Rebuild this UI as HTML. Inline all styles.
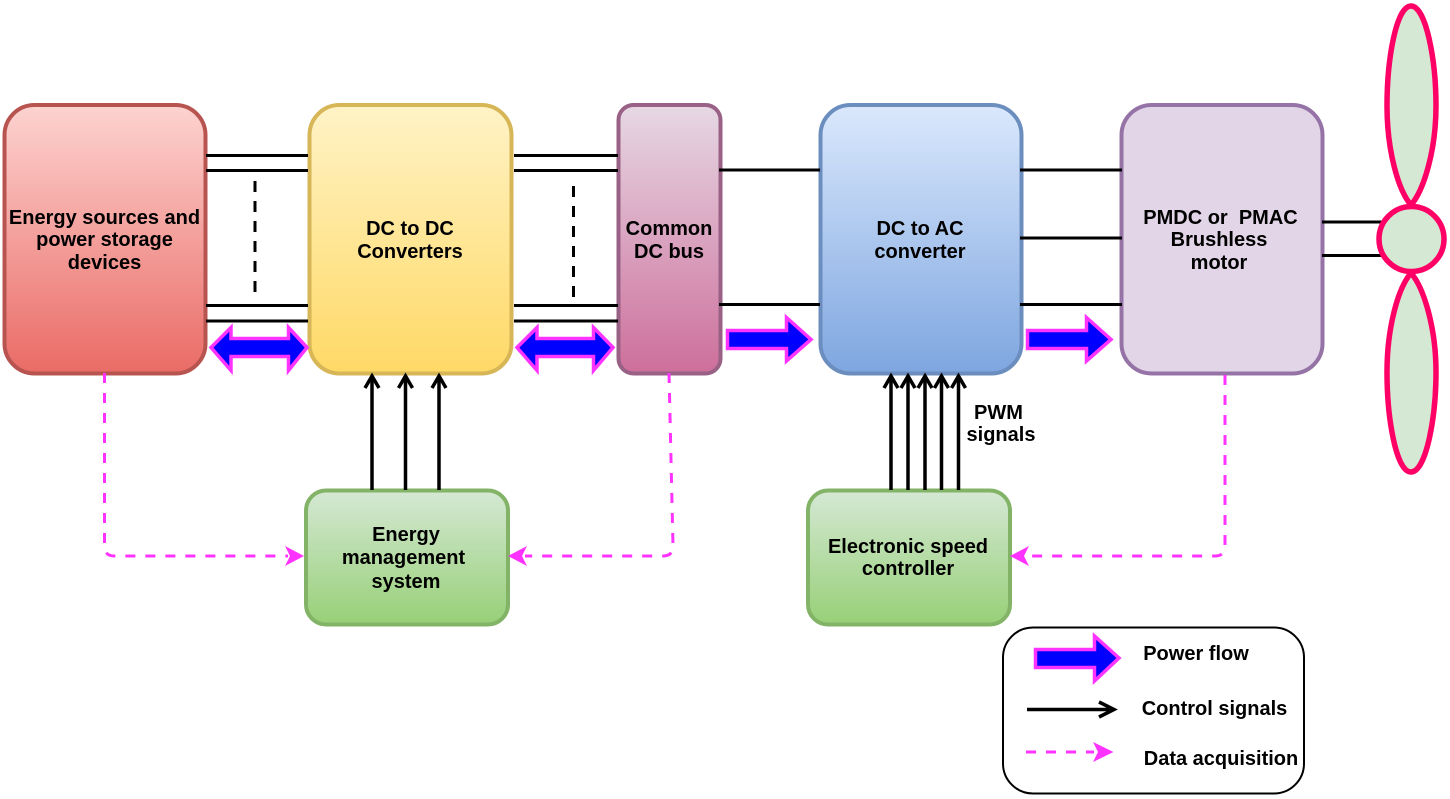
<!DOCTYPE html>
<html>
<head>
<meta charset="utf-8">
<style>
html,body{margin:0;padding:0;background:#fff;width:1450px;height:799px;overflow:hidden}
svg{display:block}
text{font-family:"Liberation Sans",sans-serif;font-weight:bold;font-size:20px;fill:#000;text-anchor:middle}
</style>
</head>
<body>
<svg width="1450" height="799" viewBox="0 0 1450 799" xmlns="http://www.w3.org/2000/svg">
<defs>
<linearGradient id="r" x1="0" y1="0" x2="0" y2="1"><stop offset="0" stop-color="#fdd3d0"/><stop offset="1" stop-color="#ea6b66"/></linearGradient>
<linearGradient id="y" x1="0" y1="0" x2="0" y2="1"><stop offset="0" stop-color="#fff3c6"/><stop offset="1" stop-color="#ffd966"/></linearGradient>
<linearGradient id="p" x1="0" y1="0" x2="0" y2="1"><stop offset="0" stop-color="#e6d8e4"/><stop offset="1" stop-color="#cd6f9b"/></linearGradient>
<linearGradient id="b" x1="0" y1="0" x2="0" y2="1"><stop offset="0" stop-color="#dae8fc"/><stop offset="1" stop-color="#7ea6e0"/></linearGradient>
<linearGradient id="g" x1="0" y1="0" x2="0" y2="1"><stop offset="0" stop-color="#d5e8d4"/><stop offset="1" stop-color="#97d077"/></linearGradient>
</defs>

<!-- main blocks -->
<rect x="4.500" y="105" width="201" height="268.500" rx="30" fill="url(#r)" stroke="#b85450" stroke-width="4"/>
<rect x="309.500" y="105" width="202" height="268.500" rx="30" fill="url(#y)" stroke="#d6b656" stroke-width="4"/>
<rect x="618.500" y="105" width="102" height="268.500" rx="15" fill="url(#p)" stroke="#996185" stroke-width="4"/>
<rect x="820.500" y="105" width="201" height="268.500" rx="30" fill="url(#b)" stroke="#6c8ebf" stroke-width="4"/>
<rect x="1121.500" y="105" width="201" height="268.500" rx="30" fill="#e1d5e7" stroke="#9673a6" stroke-width="4"/>
<rect x="306" y="490.500" width="202" height="134" rx="20" fill="url(#g)" stroke="#82b366" stroke-width="4"/>
<rect x="808" y="490.500" width="202" height="134" rx="20" fill="url(#g)" stroke="#82b366" stroke-width="4"/>

<!-- power lines -->
<g stroke="#000" stroke-width="3" fill="none">
<path d="M206 155.500H308M206 170.500H308M206 305.500H308M206 321H308"/>
<path d="M514 155.500H618M514 170.500H618M514 305.500H618M514 321H618"/>
<path d="M719 170H820M719 304.500H820"/>
<path d="M1020 170H1122M1020 238H1122M1020 304.500H1122"/>
<path d="M1322 222H1382M1322 255.500H1382"/>
<path d="M255 181V292M573.500 186V297" stroke-dasharray="11 9"/>
</g>

<!-- propeller -->
<g fill="#d5e8d4" stroke="#ff0066" stroke-width="5.500">
<path d="M1411 6C1396 6 1387 60 1387 106C1387 150 1398 190 1411 205C1424 190 1436 150 1436 106C1436 60 1426 6 1411 6Z"/>
<path d="M1411 472C1396 472 1387 418 1387 372C1387 328 1398 288 1411 273C1424 288 1436 328 1436 372C1436 418 1426 472 1411 472Z"/>
<circle cx="1411.500" cy="239" r="32.500"/>
</g>

<!-- power flow arrows -->
<g fill="#0000ff" stroke="#ff33ff" stroke-width="3.500">
<path d="M211 347.500L231 327.500V338.500H288.500V327.500L307 347.500L288.500 370.500V356.500H231V370.500Z"/>
<path d="M517 347.500L537 327.500V338.500H593.500V327.500L613 347.500L593.500 370.500V356.500H537V370.500Z"/>
<path d="M727.500 330.500H786.500V317.500L811 339.500L786.500 361V348.500H727.500Z"/>
<path d="M1027.500 330.500H1086.500V317.500L1111 339.500L1086.500 361V348.500H1027.500Z"/>
<path d="M1035.500 649.500H1094.500V636L1119 658L1094.500 681V667.500H1035.500Z"/>
</g>

<!-- control arrows -->
<g stroke="#000" stroke-width="3.500" fill="none">
<path d="M372 490V376M405.500 490V376M439 490V376"/>
<path d="M365 388L372 376L379 388M398.500 388L405.500 376L412.500 388M432 388L439 376L446 388"/>
<path d="M891 490V376M908 490V376M925 490V376M941.500 490V376M958.500 490V376"/>
<path d="M884 388L891 376L898 388M901 388L908 376L915 388M918 388L925 376L932 388M934.500 388L941.500 376L948.500 388M951.500 388L958.500 376L965.500 388"/>
<path d="M1027 709.500H1113M1099 702L1114 709.500L1099 717"/>
</g>

<!-- data arrows -->
<g stroke="#ff33ff" stroke-width="3" fill="none" stroke-dasharray="10 10">
<path d="M104.500 373V546Q104.500 556 114.500 556H288"/>
<path d="M669 373L673 546Q673 556 663 556H525"/>
<path d="M1225 375V546Q1225 556 1215 556H1027"/>
<path d="M1026 752H1094"/>
</g>
<g fill="#ff33ff">
<path d="M285 546L304 556L285 566L290 556Z"/>
<path d="M527 546L508 556L527 566L522 556Z"/>
<path d="M1029 546L1010 556L1029 566L1024 556Z"/>
<path d="M1093 742L1113.500 752L1093 762L1098 752Z"/>
</g>

<!-- legend -->
<rect x="1003" y="627.500" width="301" height="166" rx="30" fill="none" stroke="#000" stroke-width="2"/>

<!-- labels -->
<text x="104.500" y="224">Energy sources and</text>
<text x="104.500" y="246">power storage</text>
<text x="104.500" y="269">devices</text>
<text x="410" y="235">DC to DC</text>
<text x="410" y="258">Converters</text>
<text x="669" y="235">Common</text>
<text x="669" y="258">DC bus</text>
<text x="920" y="235">DC to AC</text>
<text x="920" y="258">converter</text>
<text x="1220.500" y="224">PMDC or &#160;PMAC</text>
<text x="1219" y="246">Brushless</text>
<text x="1219" y="269">motor</text>
<text x="406" y="541">Energy</text>
<text x="403.500" y="564">management</text>
<text x="406" y="588">system</text>
<text x="908" y="553">Electronic speed</text>
<text x="908" y="575">controller</text>
<text x="998.500" y="419">PWM</text>
<text x="1001" y="441">signals</text>
<text x="1196" y="660">Power flow</text>
<text x="1214.500" y="715">Control signals</text>
<text x="1221" y="765">Data acquisition</text>
</svg>
</body>
</html>
